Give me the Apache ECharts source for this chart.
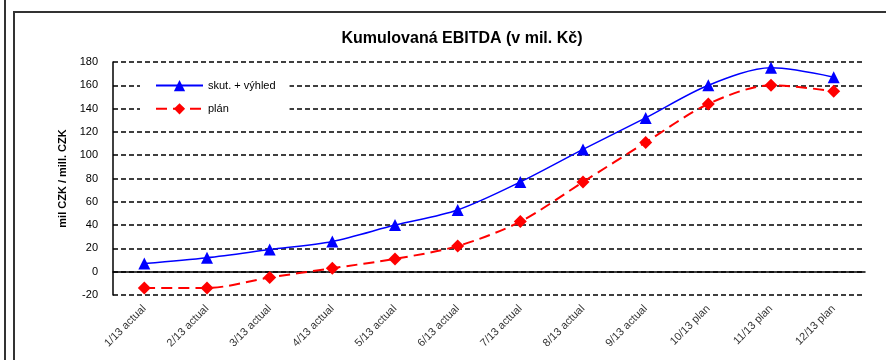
<!DOCTYPE html>
<html><head><meta charset="utf-8">
<script src="https://cdn.jsdelivr.net/npm/echarts@6/dist/echarts.min.js"></script>
<style>html,body{margin:0;padding:0;background:#fff}#c{width:886px;height:360px}</style>
</head><body><div id="c"></div>
<script>
const categories = ['1/13 actual','2/13 actual','3/13 actual','4/13 actual','5/13 actual','6/13 actual','7/13 actual','8/13 actual','9/13 actual','10/13 plan','11/13 plan','12/13 plan'];
const actualOutlook = [7, 12, 19, 26, 40, 53, 77, 105, 132, 160, 175, 167];
const plan = [-14, -14, -5, 3, 11, 22, 43, 77, 111, 144, 160, 155];
const seriesNames = ['skut. + výhled', 'plán'];
const titleText = 'Kumulovaná EBITDA (v mil. Kč)';
const yAxisName = 'mil CZK / mill. CZK';

const chart = echarts.init(document.getElementById('c'));
chart.setOption({
  animation: false,
  backgroundColor: '#fff',
  textStyle: { fontFamily: 'Liberation Sans, Arial, sans-serif' },
  title: {
    text: titleText, left: 457, top: 26, textAlign: 'center',
    textStyle: { fontSize: 16, fontWeight: 'bold', color: '#000', fontFamily: 'Liberation Sans, Arial, sans-serif' }
  },
  graphic: [
    { type: 'line', shape: { x1: 5, y1: 0, x2: 5, y2: 360 }, style: { stroke: '#333', lineWidth: 2 }, silent: true },
    { type: 'rect', shape: { x: 14, y: 12, width: 900, height: 400 }, style: { fill: 'none', stroke: '#333', lineWidth: 2 }, silent: true }
  ],
  legend: {
    left: 140, top: 76, orient: 'vertical',
    backgroundColor: '#fff', padding: [4, 14, 4, 15],
    itemWidth: 47, itemHeight: 14, itemGap: 12,
    textStyle: { fontSize: 11, color: '#000' },
    data: seriesNames
  },
  grid: { left: 113, right: 21, top: 62, bottom: 65, containLabel: false },
  xAxis: {
    type: 'category', data: categories, boundaryGap: true,
    axisLine: { onZero: true, lineStyle: { color: '#000', width: 1.5 } },
    axisTick: { show: false },
    axisLabel: { rotate: 45, fontSize: 11, color: '#333', margin: 12, interval: 0 }
  },
  yAxis: {
    type: 'value', min: -20, max: 180, interval: 20,
    name: yAxisName, nameLocation: 'middle', nameGap: 40, nameRotate: 90,
    nameTextStyle: { fontSize: 11, fontWeight: 'bold', color: '#000' },
    axisLine: { show: true, lineStyle: { color: '#000', width: 1.5 } },
    axisTick: { show: false },
    axisLabel: { fontSize: 11, color: '#000', margin: 15 },
    splitLine: { show: true, lineStyle: { color: '#000', width: 1.5, type: [5, 3] } }
  },
  series: [
    {
      name: seriesNames[0], type: 'line', data: actualOutlook, smooth: 0.3,
      symbol: 'triangle', symbolSize: 12,
      itemStyle: { color: '#0000ff' },
      lineStyle: { color: '#0000ff', width: 1.5 }
    },
    {
      name: seriesNames[1], type: 'line', data: plan, smooth: 0.3,
      symbol: 'diamond', symbolSize: 13,
      itemStyle: { color: '#ff0000' },
      lineStyle: { color: '#ff0000', width: 2, type: [11, 6] }
    }
  ]
});
</script></body></html>
